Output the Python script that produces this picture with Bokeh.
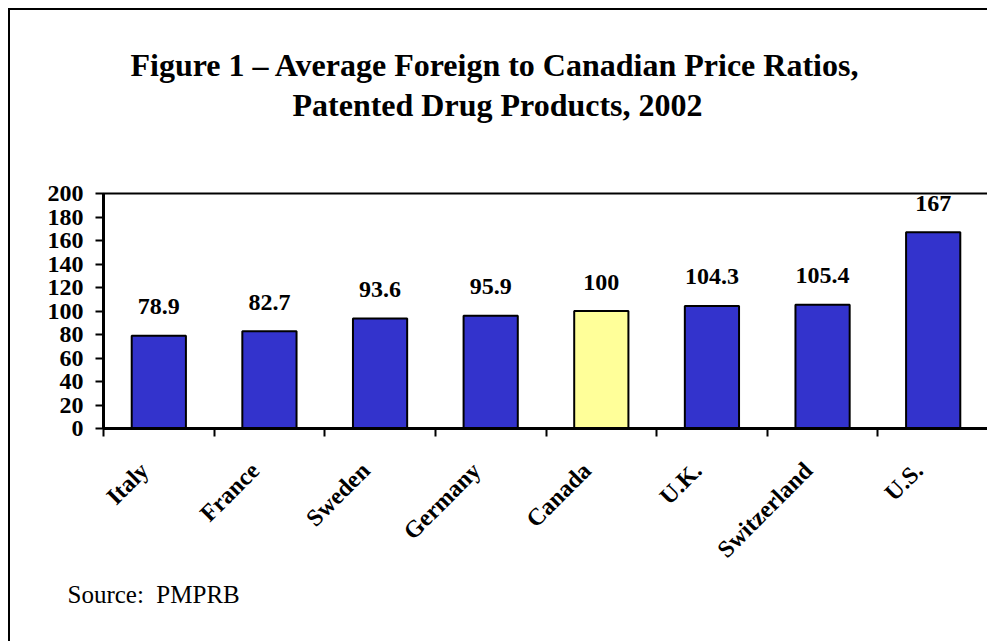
import math
from bokeh.plotting import figure
from bokeh.models import FixedTicker, Range1d, Title, ColumnDataSource
from bokeh.core.properties import value
from bokeh.embed import file_html
from bokeh.resources import INLINE

countries = ["Italy", "France", "Sweden", "Germany", "Canada", "U.K.", "Switzerland", "U.S."]
ratios = [78.9, 82.7, 93.6, 95.9, 100, 104.3, 105.4, 167]
bar_colors = ["#3333CC", "#3333CC", "#3333CC", "#3333CC", "#FFFF99", "#3333CC", "#3333CC", "#3333CC"]
value_labels = ["78.9", "82.7", "93.6", "95.9", "100", "104.3", "105.4", "167"]
y_ticks = [0, 20, 40, 60, 80, 100, 120, 140, 160, 180, 200]
title_lines = ["Figure 1 \u2013 Average Foreign to Canadian Price Ratios,", "Patented Drug Products, 2002"]
source_text = "Source:\u00a0 PMPRB"

FONT = "Liberation Serif"

n = len(countries)
centers = [i + 0.5 for i in range(n)]
boundaries = list(range(n + 1))
label_ticks = [c - 0.13 for c in centers]

src = ColumnDataSource(dict(x=centers, top=ratios, color=bar_colors, lab=value_labels))

p = figure(width=979, height=633, output_backend="svg", toolbar_location=None,
           x_range=Range1d(0, n), y_range=Range1d(0, 200),
           min_border_left=93, min_border_right=1, min_border_top=183, min_border_bottom=215)
p.title = None
p.styles = {"margin-left": "8px", "margin-top": "8px",
            "border-left": "2px solid black", "border-top": "2px solid black"}
p.background_fill_color = "white"
p.border_fill_color = "white"
p.outline_line_color = "black"
p.outline_line_width = 2
p.xgrid.visible = False
p.ygrid.visible = False

p.vbar(x="x", top="top", width=0.49, bottom=0, source=src, fill_color="color",
       line_color="black", line_width=2)
p.text(x="x", y="top", text="lab", source=src, y_offset=-29,
       text_font=value(FONT), text_font_style="bold", text_font_size="24px",
       text_align="center", text_baseline="alphabetic", text_color="black")

# y axis
ya = p.yaxis[0]
ya.ticker = FixedTicker(ticks=y_ticks)
ya.axis_line_width = 3
ya.axis_line_color = "black"
ya.major_tick_in = 0
ya.major_tick_out = 8
ya.major_tick_line_width = 2
ya.minor_tick_line_color = None
ya.major_label_standoff = 12
ya.major_label_text_font = FONT
ya.major_label_text_font_style = "bold"
ya.major_label_text_font_size = "24px"
ya.major_label_text_color = "black"

# x axis
xa = p.xaxis[0]
xa.ticker = FixedTicker(ticks=label_ticks, minor_ticks=boundaries)
xa.major_label_overrides = {t: name for t, name in zip(label_ticks, countries)}
xa.axis_line_width = 3
xa.axis_line_color = "black"
xa.major_tick_in = 0
xa.major_tick_out = 0
xa.major_tick_line_color = None
xa.minor_tick_in = 0
xa.minor_tick_out = 8
xa.minor_tick_line_width = 2
xa.minor_tick_line_color = "black"
xa.major_label_orientation = math.pi / 4
xa.major_label_standoff = 30
xa.major_label_text_font = FONT
xa.major_label_text_font_style = "bold"
xa.major_label_text_font_size = "24px"
xa.major_label_text_color = "black"

# spacer between frame and title, then the two title lines, then the source note
p.add_layout(Title(text=" ", align="left", standoff=32,
                   text_font=FONT, text_font_size="32px"), "above")
p.add_layout(Title(text=title_lines[1], align="left", offset=189, standoff=2,
                   text_font=FONT, text_font_style="bold", text_font_size="32px",
                   text_color="black"), "above")
p.add_layout(Title(text=title_lines[0], align="left", offset=27, standoff=2,
                   text_font=FONT, text_font_style="bold", text_font_size="32px",
                   text_color="black"), "above")
p.add_layout(Title(text=source_text, align="left", offset=-36, standoff=8,
                   text_font=FONT, text_font_style="normal", text_font_size="25px",
                   text_color="black"), "below")

open("out.html", "w").write(file_html(p, INLINE))
